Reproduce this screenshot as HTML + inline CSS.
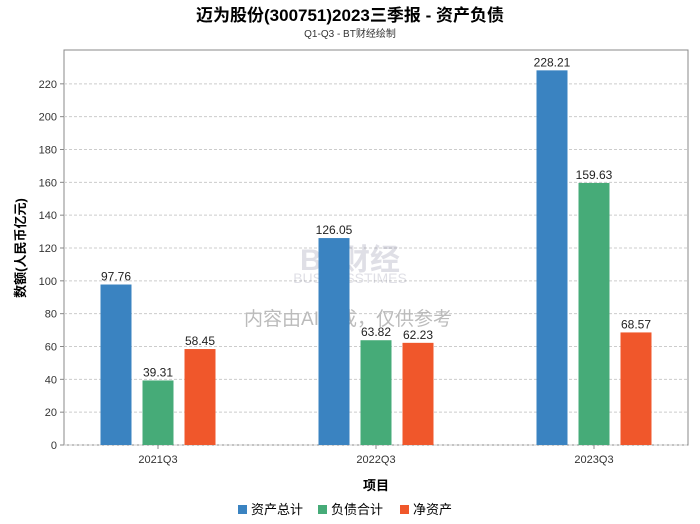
<!DOCTYPE html>
<html><head><meta charset="utf-8"><style>
body{margin:0;background:#fff;}
svg{display:block;font-family:"Liberation Sans","Noto Sans CJK SC",sans-serif;}
</style></head><body>
<svg id="c" width="700" height="524">
<text x="350" y="21" text-anchor="middle" font-size="17" font-weight="bold" fill="#000">迈为股份(300751)2023三季报 - 资产负债</text>
<text x="350" y="37" text-anchor="middle" font-size="10" fill="#333">Q1-Q3 - BT财经绘制</text>
<rect x="64" y="50" width="624" height="395" fill="#fff" stroke="#888"/>
<g id="grid"></g>
<g opacity="0.18">
<text x="350" y="270" text-anchor="middle" font-size="30" font-weight="bold" fill="#557">BT财经</text>
<text x="350" y="283" text-anchor="middle" font-size="14" fill="#557">BUSINESSTIMES</text>
</g>
<text x="348" y="325" text-anchor="middle" font-size="19" fill="#bbb">内容由AI生成，仅供参考</text>
<g id="bars"></g>
<text transform="translate(25,248) rotate(-90)" text-anchor="middle" font-size="13" font-weight="bold" fill="#000">数额(人民币亿元)</text>
<text x="376" y="490" text-anchor="middle" font-size="13" font-weight="bold" fill="#000">项目</text>
<g id="legend"></g>
</svg>
<script>
const categories=["2021Q3","2022Q3","2023Q3"];
const seriesNames=["资产总计","负债合计","净资产"];
const assets=[97.76,126.05,228.21];
const liabilities=[39.31,63.82,159.63];
const equity=[58.45,62.23,68.57];
const yTicks=[0,20,40,60,80,100,120,140,160,180,200,220];
const colors=["#3a83c1","#46ab78","#f0572b"];
const ns="http://www.w3.org/2000/svg";
const X0=64,X1=688,Y0=445,YMAX=240,YTOP=51,MARGIN=94;
function y(v){return Y0-(v/YMAX)*(Y0-YTOP);}
function xc(i){return X0+MARGIN+i*(X1-X0-2*MARGIN)/(categories.length-1);}
function mk(t,a,p){const e=document.createElementNS(ns,t);for(const k in a)e.setAttribute(k,a[k]);p.appendChild(e);return e;}
const grid=document.getElementById('grid');
yTicks.forEach(t=>{
 const l=mk('line',{x1:X0,x2:X1,y1:y(t),y2:y(t),stroke:'#ccc','stroke-dasharray':'3,2'},grid);
 
 
 const tk=mk('line',{x1:X0-4,x2:X0,y1:y(t),y2:y(t),stroke:'#888'},grid);
 
 
 const tx=mk('text',{x:X0-7,y:y(t)+4,'text-anchor':'end','font-size':11,fill:'#333'},grid);
 tx.textContent=t;
 
 
});
const bars=document.getElementById('bars');
const series=[assets,liabilities,equity];
categories.forEach((c,i)=>{
 const cx=xc(i);
 series.forEach((s,j)=>{
  const bx=cx+(j-1)*42-15.5, v=s[i];
  const r=mk('rect',{x:bx,y:y(v),width:31,height:Y0-y(v),fill:colors[j]},bars);
  
  
  const t=mk('text',{x:bx+15.5,y:y(v)-4,'text-anchor':'middle','font-size':12,fill:'#222'},bars);
  t.textContent=v.toFixed(2);
  
  
 });
 const tk=mk('line',{x1:cx,x2:cx,y1:Y0,y2:Y0+4,stroke:'#888'},bars);
 
 
 const t=mk('text',{x:cx,y:Y0+18,'text-anchor':'middle','font-size':11,fill:'#333'},bars);
 t.textContent=c;
 
 
});
const lg=document.getElementById('legend');
const lx=[238,318,400];
seriesNames.forEach((n,j)=>{
 const r=mk('rect',{x:lx[j],y:505,width:9,height:9,fill:colors[j]},lg);
 
 
 const t=mk('text',{x:lx[j]+13,y:514,'font-size':13,fill:'#000'},lg);
 t.textContent=n;
 
 
});
</script>
</body></html>
